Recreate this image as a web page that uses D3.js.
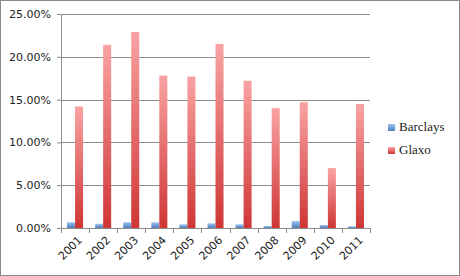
<!DOCTYPE html>
<html>
<head>
<meta charset="utf-8">
<script src="https://d3js.org/d3.v7.min.js"></script>
<style>
  body { margin: 0; background: #fff; }
</style>
</head>
<body>
<div id="graph"></div>
<script>
    var years = ["2001", "2002", "2003", "2004", "2005", "2006", "2007", "2008", "2009", "2010", "2011"];
    var barclays = [0.67, 0.50, 0.67, 0.67, 0.43, 0.55, 0.43, 0.23, 0.82, 0.35, 0.20];
    var glaxo = [14.2, 21.4, 22.9, 17.8, 17.7, 21.5, 17.2, 14.0, 14.7, 7.0, 14.5];
    var seriesNames = ["Barclays", "Glaxo"];
    var yTicks = [0, 5, 10, 15, 20, 25];

    var W = 460, H = 276;
    var margin = { top: 14, right: 90, bottom: 48, left: 61 },
        width = 370 - margin.left,
        height = 228 - margin.top;

    var svg = d3.select("#graph")
        .append("svg")
        .attr("width", W)
        .attr("height", H);

    // gradients
    var defs = svg.append("defs");
    function grad(id, top, bottom) {
        var g = defs.append("linearGradient")
            .attr("id", id)
            .attr("x1", 0).attr("y1", 0).attr("x2", 0).attr("y2", 1);
        g.append("stop").attr("offset", "0%").attr("stop-color", top);
        g.append("stop").attr("offset", "100%").attr("stop-color", bottom);
    }
    grad("gBlue", "#9dc3f0", "#4a7ebb");
    grad("gRed", "#f9a3a3", "#cf3535");
    var fills = { Barclays: "url(#gBlue)", Glaxo: "url(#gRed)" };

    // outer frame
    svg.append("rect")
        .attr("x", 0.5).attr("y", 0.5)
        .attr("width", W - 1).attr("height", H - 1)
        .attr("fill", "#fff")
        .attr("stroke", "#8a8a8a");

    var g = svg.append("g")
        .attr("transform", "translate(" + margin.left + "," + margin.top + ")");

    var x = d3.scaleBand()
        .domain(years)
        .range([0, width]);

    var x1 = d3.scaleBand()
        .domain(seriesNames)
        .range([x.bandwidth() * 0.75 / 3.5, x.bandwidth() * 2.75 / 3.5]);

    var y = d3.scaleLinear()
        .domain([0, 25])
        .range([height, 0]);

    // gridlines
    g.append("g")
        .selectAll("line")
        .data(yTicks)
        .enter()
        .append("line")
        .attr("x1", 0)
        .attr("x2", width)
        .attr("y1", function (d) { return Math.round(y(d)) + 0.5; })
        .attr("y2", function (d) { return Math.round(y(d)) + 0.5; })
        .attr("stroke", "#8c8c8c");

    // y axis
    var yAxis = g.append("g")
        .call(d3.axisLeft(y).tickValues(yTicks).tickSize(4).tickPadding(6)
            .tickFormat(function (d) { return d.toFixed(2) + "%"; }));
    yAxis.select(".domain").attr("stroke", "#8c8c8c");
    yAxis.selectAll("line").attr("stroke", "#8c8c8c");
    yAxis.selectAll("text")
        .style("font-family", "DejaVu Sans")
        .style("font-size", "11px")
        .attr("fill", "#222");

    // x axis
    var xAxis = g.append("g")
        .attr("transform", "translate(0," + height + ")")
        .call(d3.axisBottom(x).tickSize(0).tickFormat(""));
    xAxis.select(".domain").attr("stroke", "#8c8c8c");

    g.append("g")
        .selectAll("line")
        .data(years.concat(["end"]))
        .enter()
        .append("line")
        .attr("x1", function (d, i) { return Math.round(i * x.step()) + 0.5; })
        .attr("x2", function (d, i) { return Math.round(i * x.step()) + 0.5; })
        .attr("y1", height)
        .attr("y2", height + 5)
        .attr("stroke", "#8c8c8c");

    g.append("g")
        .selectAll("text")
        .data(years)
        .enter()
        .append("text")
        .attr("transform", function (d) {
            return "translate(" + (x(d) + x.bandwidth() / 2 + 5) + "," + (height + 10) + ") rotate(-45)";
        })
        .attr("text-anchor", "end")
        .attr("dy", "0.35em")
        .style("font-family", "DejaVu Sans")
        .style("font-size", "11px")
        .attr("fill", "#222")
        .text(function (d) { return d; });

    // bars
    var rows = years.map(function (yr, i) {
        return { year: yr, Barclays: barclays[i], Glaxo: glaxo[i] };
    });

    g.append("g")
        .selectAll("g")
        .data(rows)
        .enter()
        .append("g")
        .attr("transform", function (d) { return "translate(" + x(d.year) + ",0)"; })
        .selectAll("rect")
        .data(function (d) { return seriesNames.map(function (k) { return { key: k, value: d[k] }; }); })
        .enter()
        .append("rect")
        .attr("x", function (d) { return x1(d.key); })
        .attr("y", function (d) { return y(d.value); })
        .attr("width", x1.bandwidth())
        .attr("height", function (d) { return height - y(d.value); })
        .attr("fill", function (d) { return fills[d.key]; });

    // legend
    var legend = svg.append("g")
        .selectAll("g")
        .data(seriesNames)
        .enter()
        .append("g")
        .attr("transform", function (d, i) { return "translate(388," + (127 + i * 23) + ")"; });

    legend.append("rect")
        .attr("x", 0)
        .attr("y", -3)
        .attr("width", 7)
        .attr("height", 7)
        .attr("fill", function (d) { return fills[d]; });

    legend.append("text")
        .attr("x", 11)
        .attr("y", 4)
        .style("font-family", "Liberation Serif")
        .style("font-size", "13px")
        .attr("fill", "#222")
        .text(function (d) { return d; });
</script>
</body>
</html>
